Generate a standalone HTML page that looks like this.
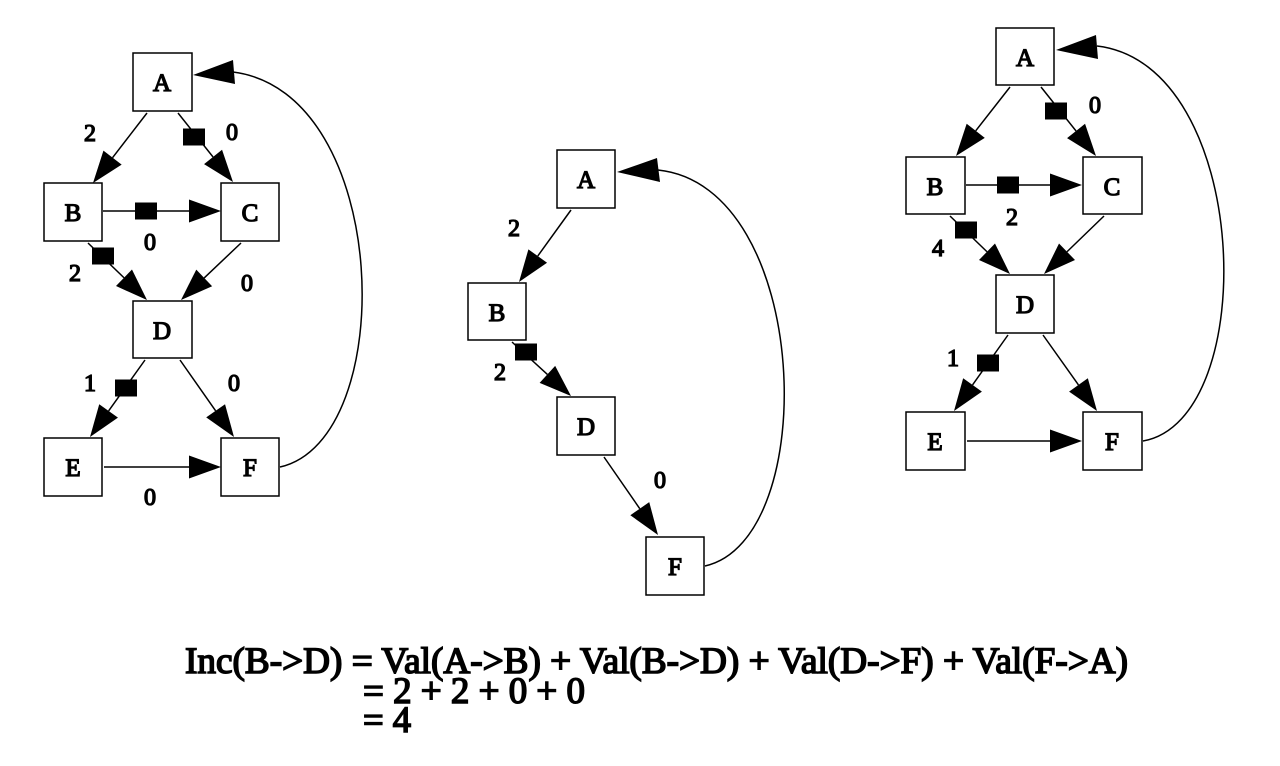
<!DOCTYPE html>
<html><head><meta charset="utf-8"><style>
html,body{margin:0;padding:0;background:#fff;width:1280px;height:766px;overflow:hidden}
svg{display:block}
text{font-family:"Liberation Serif",serif;font-weight:normal;fill:#000;stroke:#000}
</style></head><body>
<svg id="s" width="1280" height="766" viewBox="0 0 1280 766" xmlns="http://www.w3.org/2000/svg">
<g fill="none" stroke="#000" stroke-width="1.5">
<path d="M280,467 C400,440 392,92 233,72"/>
<path d="M705,566 C822,540 812,186 658,170"/>
<path d="M1143,441 C1262,420 1252,64 1097,46"/>
</g>
<g fill="#000">
<polygon points="193,75 233,60 235,84"/>
<polygon points="617,172 657,158 660,182"/>
<polygon points="1056,50 1096,35 1098,59"/>
</g>
<g id="edges"></g>
<g fill="#fff" stroke="#000" stroke-width="1.5">
<rect x="133" y="53" width="59" height="58"/>
<rect x="44" y="183" width="58" height="58"/>
<rect x="221" y="183" width="58" height="58"/>
<rect x="133" y="301" width="59" height="57"/>
<rect x="44" y="438" width="58" height="58"/>
<rect x="221" y="438" width="58" height="58"/>
<rect x="557" y="150" width="58" height="58"/>
<rect x="468" y="283" width="58" height="57"/>
<rect x="557" y="397" width="58" height="58"/>
<rect x="646" y="537" width="58" height="58"/>
<rect x="996" y="28" width="58" height="57"/>
<rect x="906" y="157" width="59" height="57"/>
<rect x="1083" y="157" width="59" height="57"/>
<rect x="996" y="275" width="58" height="58"/>
<rect x="906" y="412" width="59" height="58"/>
<rect x="1083" y="412" width="59" height="58"/>
</g>
<g font-size="25" text-anchor="middle" stroke-width="1.3">
<text x="162" y="91">A</text><text x="73" y="221">B</text><text x="250" y="221">C</text>
<text x="162" y="339">D</text><text x="73" y="476">E</text><text x="250" y="476">F</text>
<text x="586" y="188">A</text><text x="497" y="321">B</text><text x="586" y="435">D</text><text x="675" y="575">F</text>
<text x="1025" y="66">A</text><text x="935" y="195">B</text><text x="1112" y="195">C</text>
<text x="1025" y="313">D</text><text x="935" y="450">E</text><text x="1112" y="450">F</text>
</g>
<g font-size="24" text-anchor="middle" stroke-width="1.3">
<text x="90" y="141">2</text><text x="232" y="140">0</text><text x="150" y="250">0</text>
<text x="75" y="281">2</text><text x="247" y="291">0</text><text x="90" y="391">1</text>
<text x="234" y="391">0</text><text x="150" y="505">0</text>
<text x="514" y="236">2</text><text x="500" y="380">2</text><text x="660" y="488">0</text>
<text x="1095" y="113">0</text><text x="1012" y="225">2</text><text x="938" y="256">4</text><text x="953" y="366">1</text>
</g>
<g font-size="37" stroke-width="1.6">
<text x="185" y="673" textLength="943" lengthAdjust="spacingAndGlyphs">Inc(B-&gt;D)  = Val(A-&gt;B) + Val(B-&gt;D) + Val(D-&gt;F) + Val(F-&gt;A)</text>
<text x="363" y="703" textLength="222" lengthAdjust="spacingAndGlyphs">=  2 + 2 + 0 + 0</text>
<text x="363" y="732" textLength="48" lengthAdjust="spacingAndGlyphs">=  4</text>
</g>
</svg>
<script>
var g=document.getElementById('edges'),NS='http://www.w3.org/2000/svg';
function el(t,a){var e=document.createElementNS(NS,t);for(var k in a)e.setAttribute(k,a[k]);g.appendChild(e);}
function A(x1,y1,x2,y2,mx,my){
 var dx=x2-x1,dy=y2-y1,L=Math.hypot(dx,dy),ux=dx/L,uy=dy/L,bx=x2-ux*32,by=y2-uy*32,px=-uy*11.5,py=ux*11.5;
 el('line',{x1:x1,y1:y1,x2:bx,y2:by,stroke:'#000','stroke-width':1.5});
 el('polygon',{points:x2+','+y2+' '+(bx+px)+','+(by+py)+' '+(bx-px)+','+(by-py),fill:'#000'});
 if(mx!==undefined)el('rect',{x:mx-11,y:my-8.5,width:22,height:17,fill:'#000'});
}
A(147,113,93,183);A(178,113,233,182,194,137);A(103,211,221,211,146,211);
A(88,243,147,300,103,256);A(241,243,181,300);A(145,360,90,437,126,388);
A(180,360,234,437);A(104,467,221,467);
A(571,210,519,282);A(512,342,571,396,526,352);A(604,457,658,535);
A(1010,87,956,156);A(1041,87,1096,156,1056,111);A(966,185,1082,185,1008,185);
A(950,216,1010,274,966,230);A(1104,216,1044,274);A(1008,335,954,411,988,363);
A(1043,335,1097,411);A(967,441,1082,441);
</script>
</body></html>
